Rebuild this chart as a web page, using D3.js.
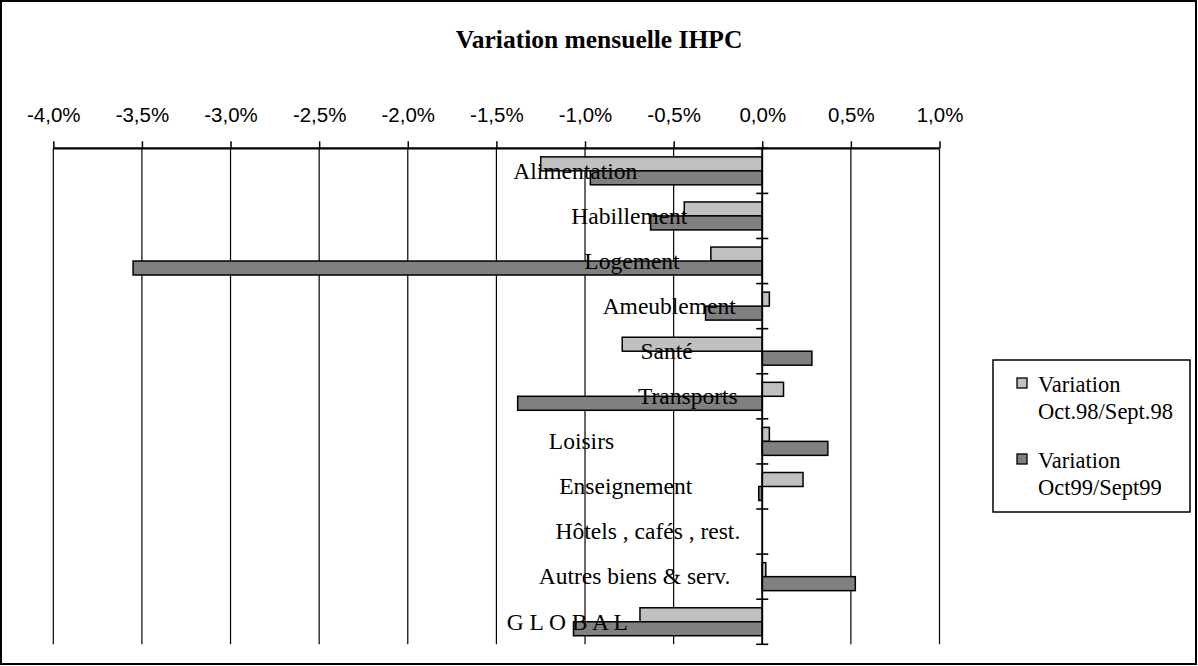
<!DOCTYPE html>
<html><head><meta charset="utf-8">
<script src="https://cdn.jsdelivr.net/npm/d3@7/dist/d3.min.js"></script>
<style>body{margin:0;background:#fff}svg{display:block}</style>
</head><body>
<svg id="c" width="1198" height="666"></svg>
<script>
const categories = ["Alimentation","Habillement","Logement","Ameublement","Santé","Transports","Loisirs","Enseignement","Hôtels , cafés , rest.","Autres biens & serv.","G L O B A L"];
const seriesNames = ["Variation Oct.98/Sept.98","Variation Oct99/Sept99"];
const values98 = [-1.25,-0.44,-0.29,0.04,-0.79,0.12,0.04,0.23,0,0.02,-0.69];
const values99 = [-0.97,-0.63,-3.55,-0.32,0.28,-1.38,0.37,-0.02,0,0.525,-1.065];
const tickValues = [-4,-3.5,-3,-2.5,-2,-1.5,-1,-0.5,0,0.5,1];
const titleText = "Variation mensuelle IHPC";

// layout (label horizontal anchors in axis units, as in the original)
const labelCenters = [-1.055,-0.75,-0.735,-0.525,-0.54,-0.42,-1.02,-0.77,-0.645,-0.72,-1.10];
const colors = ["#c0c0c0","#808080"];

const svg = d3.select("#c");
svg.append("rect").attr("x",1).attr("y",1).attr("width",1195).attr("height",663)
  .attr("fill","#fff").attr("stroke","#000").attr("stroke-width",2);

svg.append("text").attr("x",599).attr("y",48).attr("text-anchor","middle")
  .attr("font-family","Liberation Serif").attr("font-weight","bold").attr("font-size",25.5)
  .text(titleText);

const x = d3.scaleLinear().domain([-4,1]).range([53.3,939.5]);
const yTop = 148.3, yBottom = 644.3;
const y = d3.scaleBand().domain(categories).range([yTop,yBottom]).padding(0);
const ys = d3.scaleBand().domain([0,1]).range([y.bandwidth()*0.19, y.bandwidth()*0.81]).padding(0);

// vertical gridlines
svg.append("g").selectAll("line").data(tickValues).join("line")
  .attr("x1",d=>x(d)).attr("x2",d=>x(d)).attr("y1",yTop).attr("y2",yBottom)
  .attr("stroke","#000").attr("stroke-width",1.2);

// top axis
const axis = d3.axisTop(x).tickValues(tickValues).tickSize(7).tickPadding(19)
  .tickFormat(d=>d3.format(".1f")(d).replace(".",",").replace("−","-")+"%");
const ga = svg.append("g").attr("transform",`translate(0,${yTop})`).call(axis);
ga.select(".domain").attr("stroke-width",2.2).attr("d",`M${x(-4)},0H${x(1)}`);
ga.selectAll(".tick line").attr("stroke-width",1.5);
ga.selectAll(".tick text").attr("font-family","Liberation Sans").attr("font-size",20.5).attr("fill","#000");

// bars
const rows = categories.map((c,i)=>({c,i,v:[values98[i],values99[i]]}));
const gb = svg.append("g");
rows.forEach(r=>{
  r.v.forEach((v,s)=>{
    gb.append("rect")
      .attr("x",x(Math.min(0,v))).attr("width",Math.abs(x(v)-x(0)))
      .attr("y",y(r.c)+ys(s)).attr("height",ys.bandwidth())
      .attr("fill",colors[s]).attr("stroke","#000").attr("stroke-width",1.5)
      .attr("display", v===0 ? "none" : null);
  });
});

// category axis at zero
svg.append("line").attr("x1",x(0)).attr("x2",x(0)).attr("y1",yTop).attr("y2",yBottom)
  .attr("stroke","#000").attr("stroke-width",1.8);
const bounds = categories.map(c=>y(c)).concat([yBottom]);
svg.append("g").selectAll("line").data(bounds).join("line")
  .attr("x1",x(0)-6).attr("x2",x(0)+6).attr("y1",d=>d).attr("y2",d=>d)
  .attr("stroke","#000").attr("stroke-width",1.6);

// category labels
svg.append("g").selectAll("text").data(categories).join("text")
  .attr("x",(d,i)=>x(labelCenters[i])).attr("y",d=>y(d)+y.bandwidth()/2)
  .attr("dy","0.33em").attr("text-anchor","middle")
  .attr("font-family","Liberation Serif").attr("font-size",23.5).attr("fill","#000")
  .text(d=>d);

// legend
const lg = svg.append("g");
lg.append("rect").attr("x",993).attr("y",360).attr("width",197).attr("height",152)
  .attr("fill","#fff").attr("stroke","#000").attr("stroke-width",1.5);
const legendLines = [["Variation","Oct.98/Sept.98"],["Variation","Oct99/Sept99"]];
seriesNames.forEach((n,i)=>{
  const oy = 378 + i*76;
  lg.append("rect").attr("x",1017).attr("y",oy).attr("width",10).attr("height",10)
    .attr("fill",colors[i]).attr("stroke","#000").attr("stroke-width",1.3);
  legendLines[i].forEach((t,j)=>{
    lg.append("text").attr("x",1038).attr("y",oy+14+j*27)
      .attr("font-family","Liberation Serif").attr("font-size",22.5).text(t);
  });
});
</script>
</body></html>
